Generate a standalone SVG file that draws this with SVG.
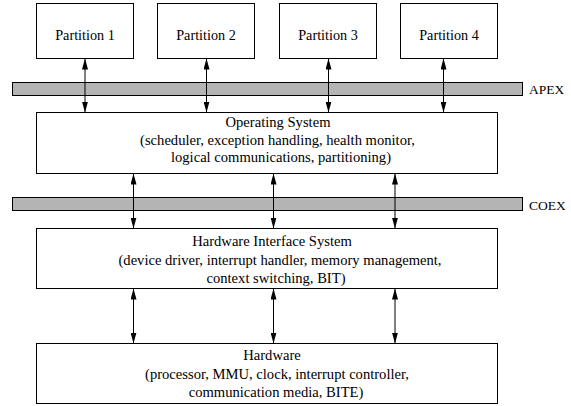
<svg xmlns="http://www.w3.org/2000/svg" width="571" height="406" viewBox="0 0 571 406">
<style>
.box{fill:#fff;stroke:#000;stroke-width:1}
.bar{fill:#b4b4b4;stroke:#000;stroke-width:1}
.t{font-family:"Liberation Serif","Times New Roman",serif;font-size:14.2px;fill:#000;text-anchor:middle}
.tb{font-family:"Liberation Serif","Times New Roman",serif;font-size:14.6px;fill:#000;text-anchor:middle}
.lbl{font-family:"Liberation Serif","Times New Roman",serif;font-size:13.5px;fill:#000}
.c{stroke:#000;stroke-width:1;fill:none;marker-start:url(#ah);marker-end:url(#ah)}
</style>
<defs>
<marker id="ah" viewBox="0 0 11 6" markerWidth="11" markerHeight="6" refX="11" refY="3" orient="auto-start-reverse" markerUnits="userSpaceOnUse">
<path d="M0,0 L11,3 L0,6 z" fill="#000"/>
</marker>
</defs>
<rect class="bar" x="12.5" y="82.5" width="510" height="13"/>
<text class="lbl" x="529" y="94">APEX</text>
<rect class="bar" x="12.5" y="197.5" width="510" height="13"/>
<text class="lbl" x="529" y="209.5">COEX</text>
<g id="partition1"><rect class="box" x="36.5" y="3.5" width="97" height="55"/><text class="t" x="85" y="39.5">Partition 1</text></g>
<g id="partition2"><rect class="box" x="157.5" y="3.5" width="97" height="55"/><text class="t" x="206" y="39.5">Partition 2</text></g>
<g id="partition3"><rect class="box" x="279.5" y="3.5" width="97" height="55"/><text class="t" x="328" y="39.5">Partition 3</text></g>
<g id="partition4"><rect class="box" x="400.5" y="3.5" width="97" height="55"/><text class="t" x="449" y="39.5">Partition 4</text></g>
<g id="os"><rect class="box" x="36.5" y="112.5" width="461" height="61"/>
<text class="tb" x="278" y="126.5">Operating System</text>
<text class="tb" x="277.5" y="144.5">(scheduler, exception handling, health monitor,</text>
<text class="tb" x="281" y="162">logical communications, partitioning)</text></g>
<g id="his"><rect class="box" x="36.5" y="228.5" width="461" height="60"/>
<text class="tb" x="272" y="246">Hardware Interface System</text>
<text class="tb" x="280" y="264.5">(device driver, interrupt handler, memory management,</text>
<text class="tb" x="276" y="283">context switching, BIT)</text></g>
<g id="hw"><rect class="box" x="36.5" y="343.5" width="461" height="60"/>
<text class="tb" x="272" y="360">Hardware</text>
<text class="tb" x="277" y="378.5">(processor, MMU, clock, interrupt controller,</text>
<text class="tb" x="276" y="397">communication media, BITE)</text></g>
<g id="connectors">
<line class="c" x1="85" y1="58.5" x2="85" y2="112.5"/>
<line class="c" x1="206.5" y1="58.5" x2="206.5" y2="112.5"/>
<line class="c" x1="328.5" y1="58.5" x2="328.5" y2="112.5"/>
<line class="c" x1="443.5" y1="58.5" x2="443.5" y2="112.5"/>
<line class="c" x1="133.5" y1="173.5" x2="133.5" y2="228.5"/>
<line class="c" x1="273.5" y1="173.5" x2="273.5" y2="228.5"/>
<line class="c" x1="395" y1="173.5" x2="395" y2="228.5"/>
<line class="c" x1="133.5" y1="288.5" x2="133.5" y2="343.5"/>
<line class="c" x1="273.5" y1="288.5" x2="273.5" y2="343.5"/>
<line class="c" x1="395" y1="288.5" x2="395" y2="343.5"/>
</g>
</svg>
